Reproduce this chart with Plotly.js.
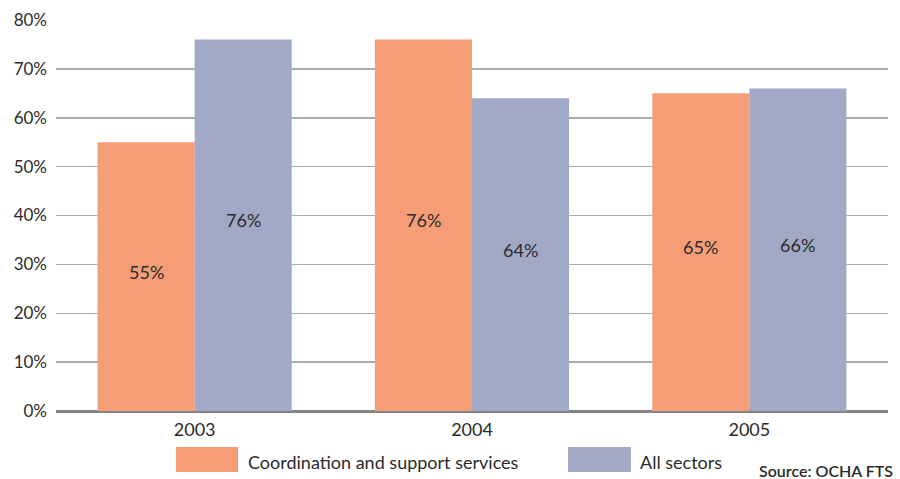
<!DOCTYPE html>
<html>
<head>
<meta charset="utf-8">
<script src="https://cdn.plot.ly/plotly-3.0.1.min.js"></script>
<style>
  html, body { margin: 0; padding: 0; background: #ffffff; }
  #chart { width: 900px; height: 479px; }
</style>
</head>
<body>
<div id="chart"></div>
<script>
// Share of requirements funded, by year
const years = ["2003", "2004", "2005"];
const coordination = [55, 76, 65];
const allSectors = [76, 64, 66];
const seriesNames = ["Coordination and support services", "All sectors"];
const seriesColors = ["#F59D77", "#A2A9C6"];
const yTicks = [0, 10, 20, 30, 40, 50, 60, 70, 80];

const FONT = "Lato, 'DejaVu Sans', sans-serif";
const TEXT = "#2b2b2b";
const BAR_HALF = 48.5; // half of one bar's width in px, for centring the value labels

function barTrace(values, i) {
  return {
    type: "bar",
    name: seriesNames[i],
    x: years,
    y: values,
    marker: { color: seriesColors[i], line: { width: 0 } },
    hoverinfo: "skip"
  };
}

const data = [barTrace(coordination, 0), barTrace(allSectors, 1)];

// Value labels placed near the middle of each bar
// (x given as the category index, since the year strings look numeric)
const annotations = [];
[coordination, allSectors].forEach((values, i) => {
  values.forEach((v, j) => {
    annotations.push({
      text: v + "%", x: j, y: v / 2, xref: "x", yref: "y",
      xshift: i === 0 ? -BAR_HALF : BAR_HALF, yshift: 5,
      xanchor: "center", yanchor: "middle", showarrow: false,
      font: { family: FONT, size: 18, color: TEXT }
    });
  });
});

// Legend drawn as wide swatches below the axis
const swatches = [
  { x0: 0.1442, x1: 0.2188 },
  { x0: 0.6154, x1: 0.6910 }
];
const shapes = swatches.map((s, i) => ({
  type: "rect", xref: "paper", yref: "paper",
  x0: s.x0, x1: s.x1, y0: -0.156, y1: -0.092,
  fillcolor: seriesColors[i], line: { width: 0 }
}));

[
  { text: seriesNames[0], x: 0.2284 },
  { text: seriesNames[1], x: 0.6995 }
].forEach(a => annotations.push({
  text: a.text, x: a.x, y: -0.13, xref: "paper", yref: "paper",
  xanchor: "left", yanchor: "middle", showarrow: false,
  font: { family: FONT, size: 18, color: TEXT }
}));
annotations.push({
  text: "Source: OCHA FTS", x: 1.008, y: -0.151, xref: "paper", yref: "paper",
  xanchor: "right", yanchor: "middle", showarrow: false,
  font: { family: FONT, size: 16, color: TEXT, weight: 600 }
});

const layout = {
  width: 900, height: 479,
  margin: { l: 56, r: 12, t: 20, b: 68 },
  paper_bgcolor: "#ffffff",
  plot_bgcolor: "#ffffff",
  barmode: "group",
  bargap: 0.3,
  bargroupgap: 0,
  showlegend: false,
  font: { family: FONT, color: TEXT },
  xaxis: {
    type: "category",
    tickfont: { family: FONT, size: 18, color: TEXT },
    showgrid: false,
    showline: false,
    ticks: "",
    ticklabelstandoff: 6
  },
  yaxis: {
    range: [0, 80],
    tickvals: yTicks,
    ticktext: yTicks.map(v => v + "%"),
    tickfont: { family: FONT, size: 17, color: TEXT },
    showgrid: true,
    gridcolor: "#ababab",
    gridwidth: 1.5,
    zeroline: true,
    zerolinecolor: "#858585",
    zerolinewidth: 3,
    ticks: "",
    ticklabelstandoff: 8
  },
  shapes: shapes,
  annotations: annotations
};

Plotly.newPlot("chart", data, layout, { staticPlot: true, displayModeBar: false });
</script>
</body>
</html>
